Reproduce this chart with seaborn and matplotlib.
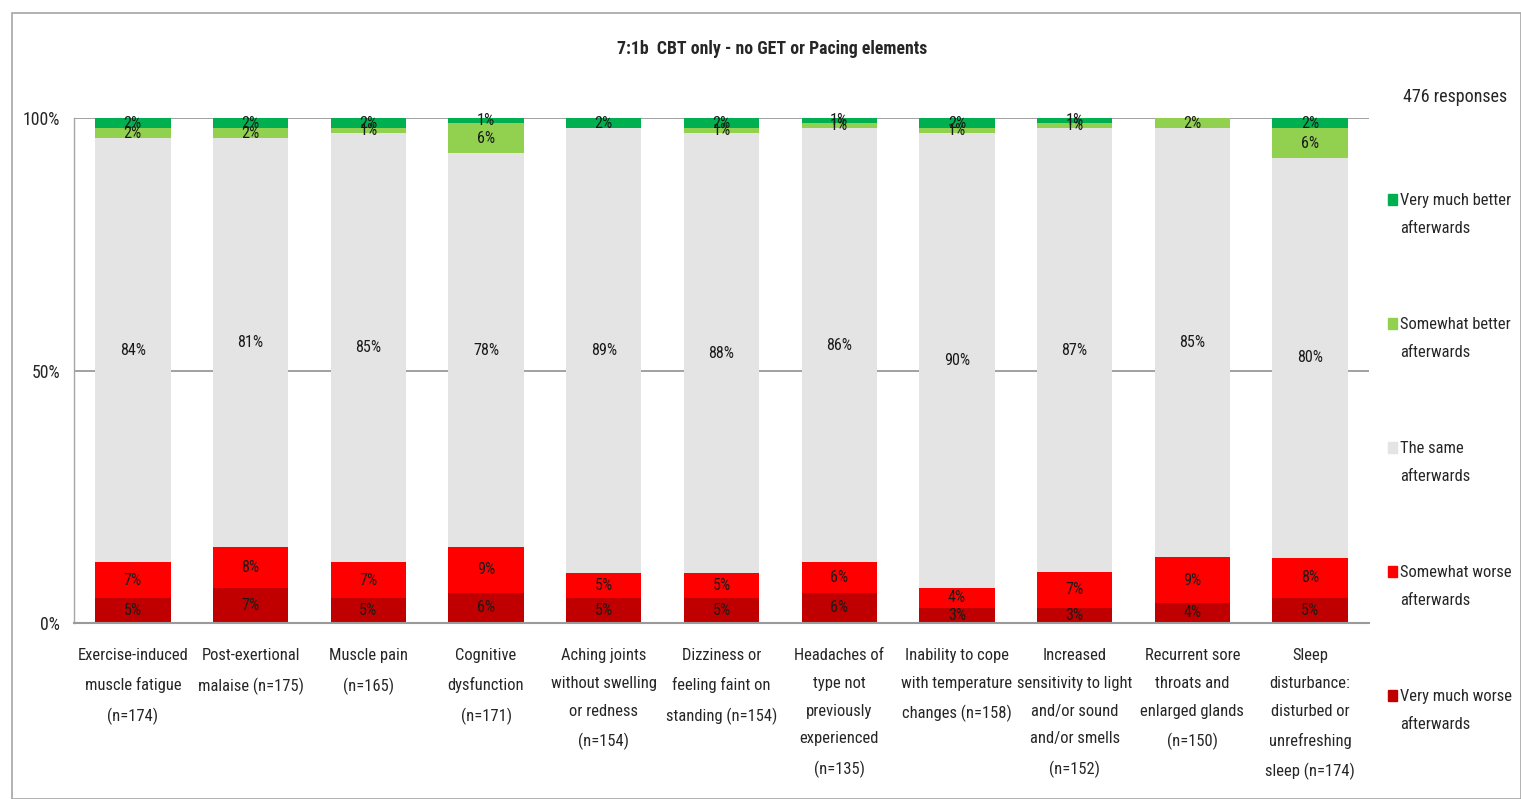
import numpy as np
import seaborn as sns
import matplotlib.pyplot as plt
from matplotlib import font_manager as fm
from matplotlib.font_manager import FontProperties
from matplotlib.patches import Rectangle

# Categories and series values (percent of respondents)
categories = [
    "Exercise-induced\nmuscle fatigue\n(n=174)",
    "Post-exertional\nmalaise (n=175)",
    "Muscle pain\n(n=165)",
    "Cognitive\ndysfunction\n(n=171)",
    "Aching joints\nwithout swelling\nor redness\n(n=154)",
    "Dizziness or\nfeeling faint on\nstanding (n=154)",
    "Headaches of\ntype not\npreviously\nexperienced\n(n=135)",
    "Inability to cope\nwith temperature\nchanges (n=158)",
    "Increased\nsensitivity to light\nand/or sound\nand/or smells\n(n=152)",
    "Recurrent sore\nthroats and\nenlarged glands\n(n=150)",
    "Sleep\ndisturbance:\ndisturbed or\nunrefreshing\nsleep (n=174)",
]
very_much_worse = [5, 7, 5, 6, 5, 5, 6, 3, 3, 4, 5]
somewhat_worse = [7, 8, 7, 9, 5, 5, 6, 4, 7, 9, 8]
the_same = [84, 81, 85, 78, 89, 88, 86, 90, 87, 85, 80]
somewhat_better = [2, 2, 1, 6, 0, 1, 1, 1, 1, 2, 6]
very_much_better = [2, 2, 2, 1, 2, 2, 1, 2, 1, 0, 2]

series_names = [
    "Very much worse\nafterwards",
    "Somewhat worse\nafterwards",
    "The same\nafterwards",
    "Somewhat better\nafterwards",
    "Very much better\nafterwards",
]
series_values = [very_much_worse, somewhat_worse, the_same, somewhat_better, very_much_better]
colors = ["#C00000", "#FF0000", "#E4E4E4", "#92D050", "#00B050"]


def pick_font(bold=False):
    # look for a narrow face (the chart uses a condensed Excel font)
    want = 700 if bold else 400
    prefs = ["Liberation Sans Narrow", "Roboto Condensed", "Open Sans Condensed",
             "Noto Sans", "DejaVu Sans", "Roboto", "Open Sans"]
    for name in prefs:
        for f in fm.fontManager.ttflist:
            narrow = ("Narrow" in f.name or "Condensed" in f.name
                      or f.stretch in ("condensed", "semi-condensed", "extra-condensed"))
            if f.name.startswith(name) and narrow and f.style == "normal" and f.weight == want:
                return FontProperties(fname=f.fname)
    return FontProperties(family="Liberation Sans", weight="bold" if bold else "normal")


reg = pick_font()
bld = pick_font(bold=True)

sns.set_theme(style="white")
plt.rcParams["font.family"] = ["Liberation Sans", "DejaVu Sans"]

fig = plt.figure(figsize=(15.21, 7.99), dpi=100)
renderer = fig.canvas.get_renderer()


def fit_size(text, target_px, prop):
    t = fig.text(0, 0, text, fontproperties=prop, fontsize=10)
    w = t.get_window_extent(renderer=renderer).width
    t.remove()
    return 10 * target_px / w


def line_pitch(prop, size):
    t1 = fig.text(0, 0, "Ag", fontproperties=prop, fontsize=size, linespacing=1.0)
    t2 = fig.text(0, 0, "Ag\nAg", fontproperties=prop, fontsize=size, linespacing=1.0)
    p = t2.get_window_extent(renderer=renderer).height - t1.get_window_extent(renderer=renderer).height
    t1.remove()
    t2.remove()
    return p


fs = fit_size("Exercise-induced", 110, reg)
fs_val = fit_size("84%", 26, reg)
fs_y = fit_size("100%", 37, reg)
fs_title = fit_size("7:1b  CBT only - no GET or Pacing elements", 311, bld)
fs_resp = fit_size("476 responses", 104, reg)
ls = 29 / line_pitch(reg, fs) * 1.07

ax = fig.add_axes([74 / 1521, 1 - 623 / 799, (1369 - 74) / 1521, (623 - 118) / 799])

vals = np.array(series_values, dtype=float)
totals = vals.sum(axis=0)
shares = vals / totals * 100  # 100% stacked, like Excel
tops = np.cumsum(shares, axis=0)
bottoms = tops - shares

# draw from the highest cumulative layer down so lower layers overlay
for k in range(len(series_values) - 1, -1, -1):
    sns.barplot(x=categories, y=tops[k], order=categories, color=colors[k],
                saturation=1, width=0.64, linewidth=0, ax=ax, zorder=2)

for k in range(len(series_values)):
    for j in range(len(categories)):
        v = series_values[k][j]
        if v > 0:
            ax.text(j, bottoms[k][j] + shares[k][j] / 2, f"{v}%", ha="center", va="center",
                    fontproperties=reg, fontsize=fs_val, color="#1A1A1A", zorder=3)

ax.set_ylim(0, 100)
ax.set_xlim(-0.5, len(categories) - 0.5)
ax.set_yticks([0, 50, 100])
ax.set_yticklabels(["0%", "50%", "100%"], fontproperties=reg, fontsize=fs_y)
ax.set_xticks(range(len(categories)))
ax.set_xticklabels(categories, fontproperties=reg, fontsize=fs, linespacing=ls, va="top")
ax.tick_params(axis="x", length=0, pad=18)
ax.tick_params(axis="y", length=0, pad=10)
ax.set_xlabel("")
ax.set_ylabel("")
for y in [50, 100]:
    ax.axhline(y, color="#9A9A9A", lw=1.3, zorder=1)
for s in ["top", "right"]:
    ax.spines[s].set_visible(False)
ax.spines["left"].set_color("#A6A6A6")
ax.spines["bottom"].set_color("#9A9A9A")
ax.spines["bottom"].set_linewidth(1.5)
ax.spines["left"].set_linewidth(1.0)

# chart frame
fig.patches.append(Rectangle((12 / 1521, 0), 1 - 12 / 1521, 1 - 13 / 799, transform=fig.transFigure,
                             fill=False, edgecolor="#A6A6A6", lw=1.2))

fig.text(772 / 1521, 1 - 49 / 799, "7:1b  CBT only - no GET or Pacing elements",
         ha="center", va="center", fontproperties=bld, fontsize=fs_title)
fig.text(1455 / 1521, 1 - 97 / 799, "476 responses", ha="center", va="center",
         fontproperties=reg, fontsize=fs_resp)

# legend (top to bottom: better -> worse)
leg_y = [200, 324, 448, 572, 696]
for i, k in enumerate(range(len(series_names) - 1, -1, -1)):
    y = leg_y[i]
    fig.patches.append(Rectangle((1388 / 1521, 1 - (y + 5) / 799), 9 / 1521, 11 / 799,
                                 transform=fig.transFigure, color=colors[k]))
    fig.text(1400 / 1521, 1 - (y + 14.5) / 799, series_names[k], ha="left", va="center",
             fontproperties=reg, fontsize=fs, linespacing=ls)

fig.savefig("out.png", dpi=100)
